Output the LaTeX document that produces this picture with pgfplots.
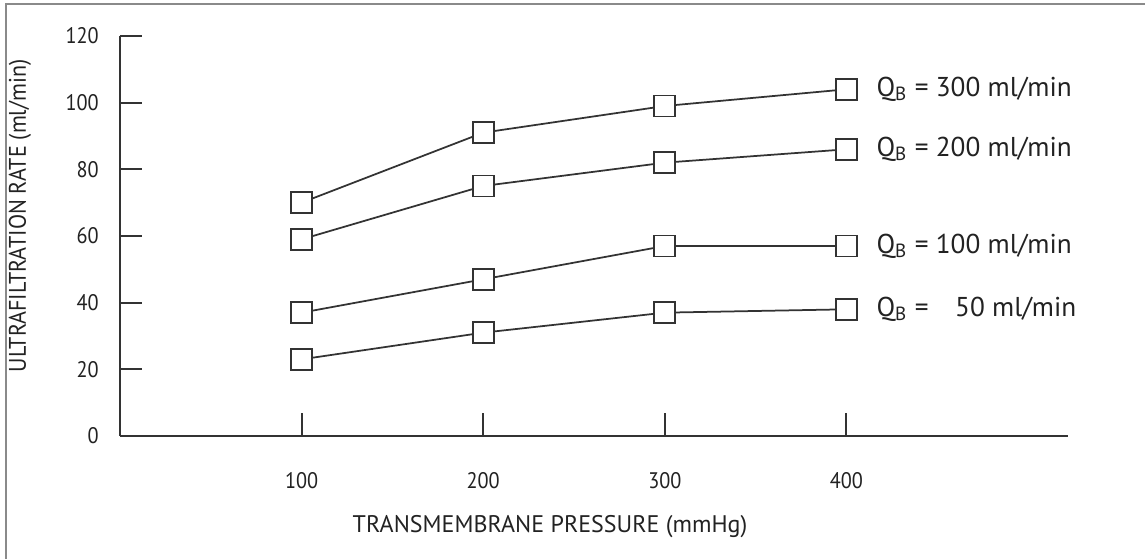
\documentclass[border=0pt]{standalone}
\usepackage{fontspec}
\setmainfont{PT Sans}
\newfontfamily\condfont[FakeStretch=0.9]{PT Sans}
\newfontfamily\ylabfont[FakeStretch=0.92]{PT Sans}
\usepackage{pgfplots}
\pgfplotsset{compat=1.18}
\definecolor{ink}{HTML}{333333}
\definecolor{txt}{HTML}{222222}
\definecolor{framegray}{HTML}{8A8A8A}

\pgfplotstableread{
x y
100 70
200 91
300 99
400 104
}\qthree
\pgfplotstableread{
x y
100 59
200 75
300 82
400 86
}\qtwo
\pgfplotstableread{
x y
100 37
200 47
300 57
400 57
}\qone
\pgfplotstableread{
x y
100 23
200 31
300 37
400 38
}\qfifty

\begin{document}
\begin{tikzpicture}
\path[use as bounding box] (0,0) rectangle (458pt,223.6pt);
\draw[framegray, line width=0.7pt] (2.4pt,-5pt) -- (2.4pt,222pt) -- (470pt,222pt);
\begin{axis}[
  scale only axis, width=379.2pt, height=160pt,
  at={(48pt,49.2pt)}, anchor=south west,
  xmin=0, xmax=522, ymin=0, ymax=120,
  axis lines=left,
  axis line style={ink, line width=0.8pt, -},
  xtick={100,200,300,400}, ytick={0,20,40,60,80,100,120},
  tick align=inside, major tick length=9pt,
  tick style={ink, line width=0.8pt},
  /pgf/number format/assume math mode=true,
  ticklabel style={font=\condfont\fontsize{9}{10}\selectfont, text=txt},
  yticklabel style={xshift=-5pt},
  xticklabel style={yshift=-11pt},
  xlabel={TRANSMEMBRANE PRESSURE (mmHg)},
  ylabel={ULTRAFILTRATION RATE (ml/min)},
  xlabel style={font=\fontsize{9.6}{11}\selectfont, text=txt,
     at={(axis description cs:0.4536,-0.2275)}, anchor=center},
  ylabel style={font=\ylabfont\fontsize{9.6}{11}\selectfont, text=txt,
     at={(axis description cs:-0.1055,0.55)}, anchor=center},
  clip=false,
  qstyle/.style={ink, line width=0.7pt, mark=square*, mark size=4.2pt,
     mark options={fill=white, draw=ink, line width=0.7pt, solid}},
]
\addplot[qstyle] table[x=x,y=y] {\qthree};
\addplot[qstyle] table[x=x,y=y] {\qtwo};
\addplot[qstyle] table[x=x,y=y] {\qone};
\addplot[qstyle] table[x=x,y=y] {\qfifty};
\begin{scope}[every node/.style={anchor=west, xshift=8.5pt, text=txt, font=\fontsize{10.9}{12}\selectfont}]
\node at (axis cs:400,104) {Q\textsubscript{B} = 300 ml/min};
\node at (axis cs:400,86) {Q\textsubscript{B} = 200 ml/min};
\node at (axis cs:400,57) {Q\textsubscript{B} = 100 ml/min};
\node at (axis cs:400,38) {Q\textsubscript{B} = \phantom{1}\,50 ml/min};
\end{scope}
\end{axis}
\end{tikzpicture}
\end{document}
